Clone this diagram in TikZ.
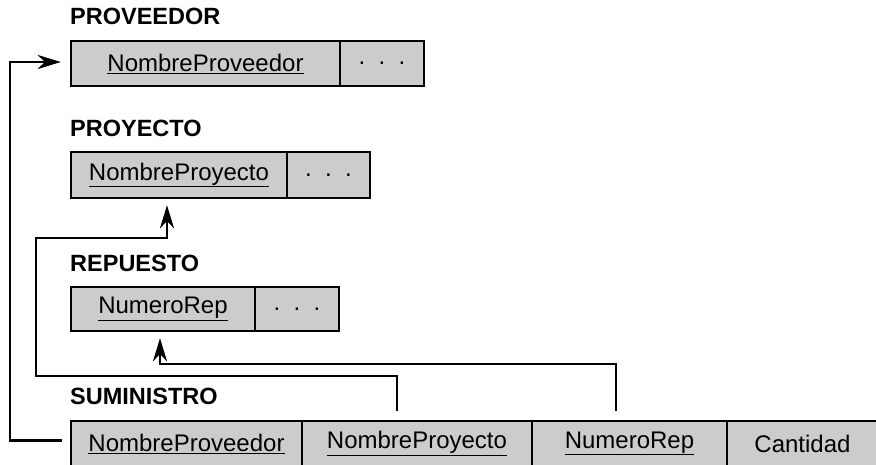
\documentclass[tikz,border=0pt]{standalone}
\usepackage{fontspec}
\setmainfont{Liberation Sans}
\usetikzlibrary{arrows.meta}
\begin{document}
\begin{tikzpicture}[x=1pt,y=1pt,
  cell/.style={draw=black, line width=2.4pt, fill=black!20, inner sep=0pt, minimum height=45pt,
    font=\fontsize{24}{28}\selectfont},
  title/.style={anchor=base west, inner sep=0pt, font=\fontsize{23.5}{28}\selectfont\bfseries},
  arr/.style={line width=2.4pt, -{Stealth[length=23pt,width=14pt,inset=7pt]}},
  con/.style={line width=2.4pt}]
\useasboundingbox (0,0) rectangle (876,465);
% PROVEEDOR
\node[title] (tp) at (70,440) {PROVEEDOR};
\node[cell, minimum width=269pt] (p1) at (205.5,401.5) {\underline{NombreProveedor}};
\node[cell, minimum width=84pt] (p2) at (382,401.5) {.\ \ .\ \ .};
% PROYECTO
\node[title] (tj) at (70,328) {PROYECTO};
\node[cell, minimum width=216pt, minimum height=46pt] (j1) at (179,290) {\underline{NombreProyecto}};
\node[cell, minimum width=83pt, minimum height=46pt] (j2) at (328.5,290) {.\ \ .\ \ .};
% REPUESTO
\node[title] (tr) at (70,193) {REPUESTO};
\node[cell, minimum width=184pt, minimum height=44pt] (r1) at (163,156) {\underline{NumeroRep}};
\node[cell, minimum width=84pt, minimum height=44pt] (r2) at (297,156) {.\ \ .\ \ .};
% SUMINISTRO
\node[title] (ts) at (70,60) {SUMINISTRO};
\node[cell, minimum width=231pt] (s1) at (186.5,21.5) {\underline{NombreProveedor}};
\node[cell, minimum width=230pt] (s2) at (417,21.5) {\underline{NombreProyecto}};
\node[cell, minimum width=195pt] (s3) at (629.5,21.5) {\underline{NumeroRep}};
\node[cell, minimum width=151pt] (s4) at (802.5,21.5) {Cantidad};
% connectors
\draw[arr] ([xshift=-8pt,yshift=3pt]s1.west) -- ++(-52,0) |- ([xshift=-9pt,yshift=1.5pt]p1.west);
\draw[arr] ([xshift=-20pt,yshift=9pt]s2.north) -- ++(0,35) -| (36,227) -| ([xshift=-12pt,yshift=-6pt]j1.south);
\draw[arr] ([xshift=-13.5pt,yshift=9pt]s3.north) -- ++(0,47) -| ([xshift=-3pt,yshift=-6pt]r1.south);
\end{tikzpicture}
\end{document}
